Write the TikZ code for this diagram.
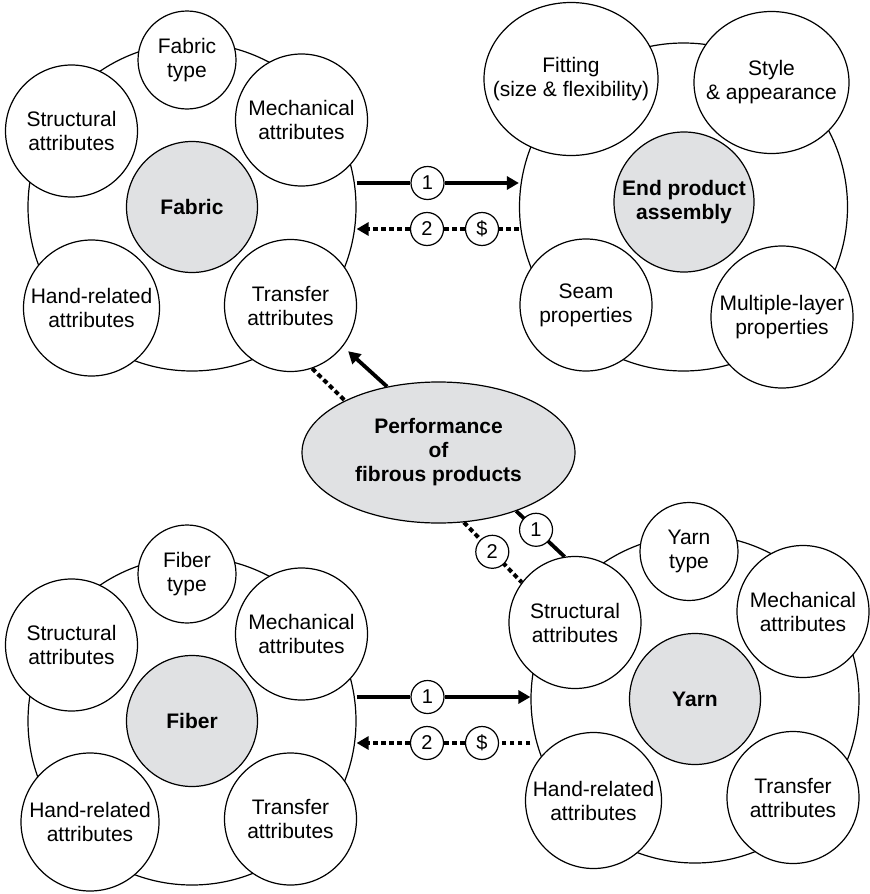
\documentclass[tikz,border=0pt]{standalone}
\usepackage{fontspec}
\setmainfont{Liberation Sans}
\usetikzlibrary{shapes.geometric, arrows.meta, positioning, calc}
\definecolor{hubgray}{RGB}{224,225,227}

\begin{document}
\begin{tikzpicture}[
    x=0.5pt, y=-0.5pt,
    every node/.style={font=\fontsize{10.5}{12}\selectfont, align=center},
    ring/.style={circle, draw=black, line width=0.6pt, fill=white, minimum size=164pt, inner sep=0pt},
    hub/.style={circle, draw=black, line width=0.6pt, fill=hubgray, minimum size=65.5pt, inner sep=0pt, font=\fontsize{10.5}{12}\selectfont\bfseries},
    attr/.style={circle, draw=black, line width=0.6pt, fill=white, minimum size=66pt, inner sep=0pt},
    kind/.style={attr, minimum size=49pt},
    oval/.style={ellipse, draw=black, line width=0.6pt, fill=white, inner xsep=-10pt, inner ysep=0pt},
    num/.style={circle, draw=black, solid, line width=0.6pt, fill=white, minimum size=16.5pt, inner sep=0pt, font=\fontsize{10}{11}\selectfont},
    arrow/.style={-{Triangle[length=6pt, width=6.5pt]}, line width=1.9pt},
    link/.style={line width=1.9pt},
    dotarrow/.style={-{Triangle[length=6pt, width=6.5pt]}, line width=2pt, dash pattern=on 2.4pt off 1.6pt},
    dotlink/.style={line width=2pt, dash pattern=on 2.4pt off 1.6pt}
]
\useasboundingbox (0,0) rectangle (869,894);

% ================= FABRIC =================
\node[ring] (fring) at (192,207) {};
\node[hub] (fabric) at (fring) {Fabric};
\node[kind] (ftype) at ($(fring)+(-5,-147)$) {Fabric\\type};
\node[attr] (fmech) at ($(fring)+(109.5,-87)$) {Mechanical\\attributes};
\node[attr] (fstruct) at ($(fring)+(-120.5,-76)$) {Structural\\attributes};
\node[attr, minimum size=68pt] (fhand) at ($(fring)+(-100.5,101)$) {Hand-related\\attributes};
\node[attr] (ftransfer) at ($(fring)+(98.5,98.5)$) {Transfer\\attributes};

% ================= END PRODUCT =================
\node[ring] (ering) at (683.5,207) {};
\node[hub, minimum size=70pt] (endprod) at ($(ering)+(0.5,-5)$) {End product\\assembly};
\node[oval, minimum width=87pt, minimum height=76.5pt] (efit) at ($(ering)+(-112.5,-128)$) {Fitting\\(size \& flexibility)};
\node[oval, minimum width=77.5pt, minimum height=71pt] (estyle) at ($(ering)+(88,-124.5)$) {Style\\\& appearance};
\node[attr] (eseam) at ($(ering)+(-97.5,98)$) {Seam\\properties};
\node[attr, minimum size=71pt] (emulti) at ($(ering)+(98.5,110)$) {Multiple-layer\\properties};

% ================= FIBER =================
\node[ring] (iring) at (192,721) {};
\node[hub] (fiber) at (iring) {Fiber};
\node[kind] (itype) at ($(iring)+(-5,-147)$) {Fiber\\type};
\node[attr] (imech) at ($(iring)+(109.5,-87)$) {Mechanical\\attributes};
\node[attr] (istruct) at ($(iring)+(-120.5,-76)$) {Structural\\attributes};
\node[attr, minimum size=69pt] (ihand) at ($(iring)+(-102,101)$) {Hand-related\\attributes};
\node[attr] (itransfer) at ($(iring)+(98.5,98)$) {Transfer\\attributes};

% ================= YARN =================
\node[ring] (yring) at (695,699) {};
\node[hub] (yarn) at (yring) {Yarn};
\node[kind] (ytype) at ($(yring)+(-6,-147.5)$) {Yarn\\type};
\node[attr] (ymech) at ($(yring)+(108,-87.5)$) {Mechanical\\attributes};
\node[attr] (ystruct) at ($(yring)+(-120,-76.5)$) {Structural\\attributes};
\node[attr, minimum size=68pt] (yhand) at ($(yring)+(-101.5,101.5)$) {Hand-related\\attributes};
\node[attr] (ytransfer) at ($(yring)+(98,98.5)$) {Transfer\\attributes};

% ================= PERFORMANCE =================
\node[ellipse, draw=black, line width=0.6pt, fill=hubgray, minimum width=136.5pt, minimum height=70.5pt, inner sep=0pt,
      font=\fontsize{10.5}{12}\selectfont\bfseries] (perf) at (438.5,452.5) {Performance\\of\\fibrous products};

% fabric <-> end product
\node[num] (fn1) at (427.5,183) {1};
\node[num] (fn2) at (427,229) {2};
\node[num] (fcash) at (482,229) {\$};
\draw[link] (fring.east |- fn1) -- (fn1);
\draw[arrow] (fn1) -- (ering.west |- fn1);
\draw[dotlink] (ering.west |- fcash) -- (fcash);
\draw[dotlink] (fcash) -- (fn2);
\draw[dotarrow] (fn2) -- (fring.east |- fn2);

% fiber <-> yarn
\node[num] (in1) at (427.5,697) {1};
\node[num] (in2) at (427,743) {2};
\node[num] (icash) at (482,743) {\$};
\draw[link] (iring.east |- in1) -- (in1);
\draw[arrow] (in1) -- (yring.west |- in1);
\draw[dotlink] (yring.west |- icash) -- (icash);
\draw[dotlink] (icash) -- (in2);
\draw[dotarrow] (in2) -- (iring.east |- in2);

% performance links
\draw[arrow, shorten >=3.5pt] (perf.128) -- (ftransfer.-38);
\draw[dotlink] (ftransfer.-71) -- (perf.151);
\draw[link] (perf.-37) -- node[num, pos=0.41] (yn1) {1} (ystruct.99);
\draw[dotlink] (perf.-70) -- node[num, pos=0.49] (yn2) {2} (ystruct.143);

\end{tikzpicture}
\end{document}
